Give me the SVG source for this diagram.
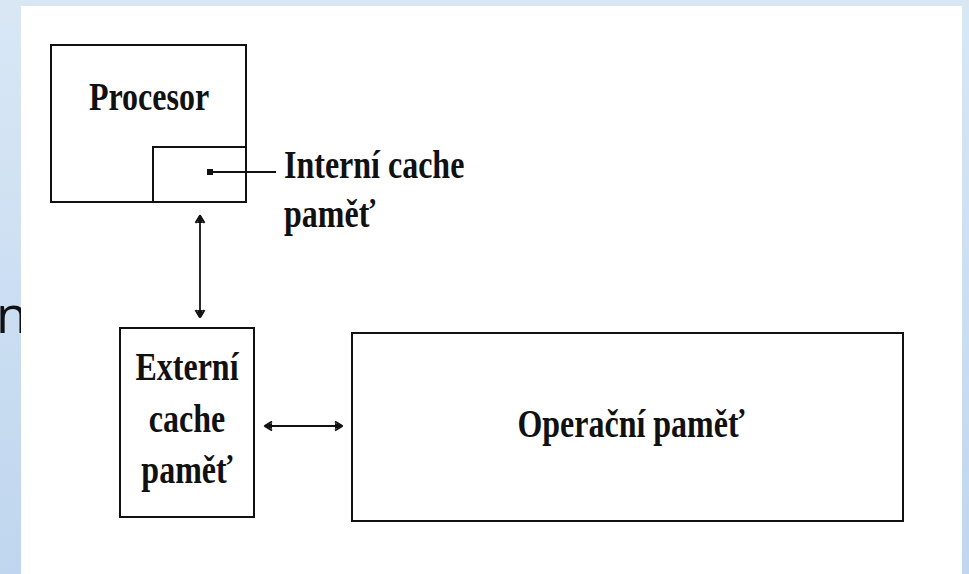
<svg xmlns="http://www.w3.org/2000/svg" width="969" height="574" viewBox="0 0 969 574">
  <defs>
    <linearGradient id="bg" x1="0" y1="0" x2="0" y2="1">
      <stop offset="0" stop-color="#d9e7f5"/>
      <stop offset="1" stop-color="#bfd6ee"/>
    </linearGradient>
    <!-- small barbed arrowhead used at both ends of the links -->
    <marker id="head" viewBox="-8 -6 10 12" refX="0" refY="0" markerWidth="10" markerHeight="12" markerUnits="userSpaceOnUse" orient="auto-start-reverse">
      <path d="M0.5,0 L-7,-4.5 M0.5,0 L-7,4.5" fill="none" stroke="#111" stroke-width="2"/>
      <path d="M1.5,0 L-7,-3 L-7,3 Z" fill="#111"/>
    </marker>
    <style>
      .box { fill: #ffffff; stroke: #111; stroke-width: 2; }
      .inner { fill: none; stroke: #111; stroke-width: 2; }
      .link { fill: none; stroke: #111; stroke-width: 1.8; }
      .lbl { font-family: "Liberation Serif", "Times New Roman", serif; font-weight: bold; font-size: 32px; fill: #111; }
      .mid { text-anchor: middle; }
    </style>
  </defs>

  <!-- slide background and white sheet -->
  <rect x="0" y="0" width="969" height="574" fill="url(#bg)"/>
  <text x="-4" y="333" font-family="Open Sans, Liberation Sans, sans-serif" font-size="52" fill="#111">n</text>
  <rect x="21" y="6" width="941" height="568" fill="#ffffff"/>

  <g id="procesor">
    <rect class="box" x="51" y="45" width="195" height="157"/>
    <text class="lbl mid" transform="translate(149,110) scale(1,1.27)">Procesor</text>
  </g>

  <g id="interni-cache">
    <rect class="inner" x="153" y="147" width="93" height="55"/>
    <rect x="207" y="169" width="6" height="6" fill="#111"/>
    <line x1="210" y1="172" x2="276" y2="172" stroke="#111" stroke-width="2"/>
    <text class="lbl" transform="translate(284,178) scale(1,1.27)">Interní cache</text>
    <text class="lbl" transform="translate(284,227) scale(1,1.27)">paměť</text>
  </g>

  <g id="externi-cache">
    <rect class="box" x="120" y="328" width="134" height="189"/>
    <text class="lbl mid" transform="translate(187,380) scale(1,1.27)">Externí</text>
    <text class="lbl mid" transform="translate(187,432) scale(1,1.27)">cache</text>
    <text class="lbl mid" transform="translate(187,483) scale(1,1.27)">paměť</text>
  </g>

  <g id="operacni-pamet">
    <rect class="box" x="352" y="333" width="551" height="188"/>
    <text class="lbl mid" transform="translate(631,437) scale(1,1.27)">Operační paměť</text>
  </g>

  <g id="connectors">
    <line class="link" x1="200" y1="216" x2="200" y2="317" marker-start="url(#head)" marker-end="url(#head)"/>
    <line class="link" x1="265" y1="426" x2="342" y2="426" marker-start="url(#head)" marker-end="url(#head)"/>
  </g>
</svg>
